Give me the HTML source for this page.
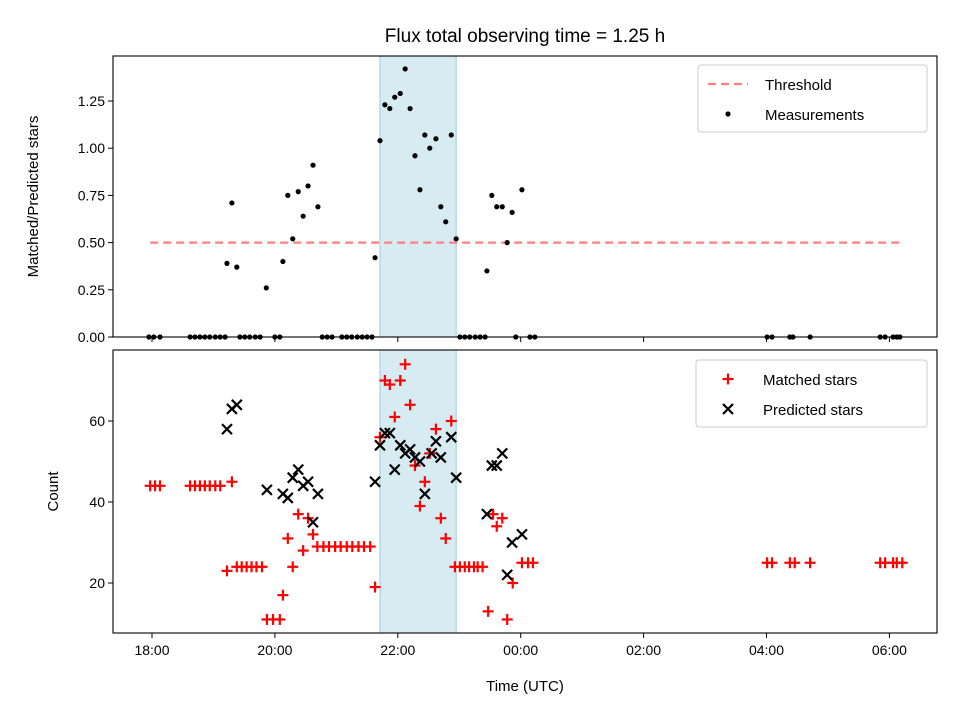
<!DOCTYPE html>
<html><head><meta charset="utf-8">
<style>
html,body{margin:0;padding:0;background:#fff;}
svg{display:block;font-family:"Liberation Sans","DejaVu Sans",sans-serif;}
</style></head>
<body>
<svg id="fig" width="960" height="720" viewBox="0 0 960 720"></svg>
<script>
// ---- data ----
const measTimes = [17.95,18.03,18.13,18.62,18.70,18.78,18.86,18.94,19.03,19.11,19.19,19.22,19.30,19.38,19.43,19.51,19.59,19.68,19.76,19.86,20.0,20.08,20.13,20.21,20.29,20.38,20.46,20.54,20.62,20.70,20.77,20.85,20.93,21.09,21.17,21.25,21.34,21.42,21.50,21.58,21.63,21.71,21.79,21.87,21.95,22.04,22.12,22.20,22.28,22.36,22.44,22.52,22.62,22.70,22.78,22.87,22.95,23.01,23.09,23.17,23.26,23.34,23.42,23.45,23.53,23.61,23.70,23.78,23.86,23.92,24.02,24.15,24.23,28.01,28.09,28.38,28.43,28.71,29.85,29.93,30.06,30.12,30.17];
const measValues = [0,0,0,0,0,0,0,0,0,0,0,0.39,0.71,0.37,0,0,0,0,0,0.26,0,0,0.40,0.75,0.52,0.77,0.64,0.80,0.91,0.69,0,0,0,0,0,0,0,0,0,0,0.42,1.04,1.23,1.21,1.27,1.29,1.42,1.21,0.96,0.78,1.07,1.00,1.05,0.69,0.61,1.07,0.52,0,0,0,0,0,0,0.35,0.75,0.69,0.69,0.50,0.66,0,0.78,0,0,0,0,0,0,0,0,0,0,0,0];
const threshold = 0.5;
const thresholdRange = [17.97, 30.2];
const obsWindow = [21.71, 22.95];
const matchedTimes = [17.97,18.05,18.13,18.62,18.70,18.78,18.86,18.94,19.03,19.11,19.30,19.22,19.38,19.46,19.54,19.62,19.70,19.79,19.87,19.97,20.08,20.13,20.21,20.29,20.38,20.46,20.54,20.62,20.69,20.79,20.88,20.98,21.07,21.17,21.26,21.36,21.45,21.55,21.63,21.71,21.79,21.87,21.95,22.04,22.12,22.20,22.28,22.36,22.44,22.52,22.62,22.70,22.78,22.87,22.93,23.01,23.09,23.16,23.24,23.30,23.38,23.47,23.55,23.61,23.70,23.78,23.87,24.02,24.12,24.20,28.01,28.09,28.38,28.46,28.71,29.85,29.93,30.06,30.12,30.21];
const matchedCounts = [44,44,44,44,44,44,44,44,44,44,45,23,24,24,24,24,24,24,11,11,11,17,31,24,37,28,36,32,29,29,29,29,29,29,29,29,29,29,19,56,70,69,61,70,74,64,49,39,45,52,58,36,31,60,24,24,24,24,24,24,24,13,37,34,36,11,20,25,25,25,25,25,25,25,25,25,25,25,25,25];
const predTimes = [19.22,19.30,19.38,19.87,20.13,20.21,20.29,20.38,20.46,20.54,20.62,20.70,21.63,21.71,21.79,21.87,21.95,22.04,22.12,22.20,22.28,22.36,22.44,22.55,22.62,22.70,22.87,22.95,23.45,23.53,23.61,23.70,23.78,23.86,24.02];
const predCounts = [58,63,64,43,42,41,46,48,44,45,35,42,45,54,57,57,48,54,52,53,51,50,42,52,55,51,56,46,37,49,49,52,22,30,32];
const xTickHours = [18,20,22,24,26,28,30];
const xTickLabels = ["18:00","20:00","22:00","00:00","02:00","04:00","06:00"];
const topTicks = [0,0.25,0.5,0.75,1.0,1.25];
const topTickLabels = ["0.00","0.25","0.50","0.75","1.00","1.25"];
const botTicks = [20,40,60];
const botTickLabels = ["20","40","60"];

// ---- axes ----
const L=113,R=937, T1=56,B1=337, T2=350,B2=633;
const xS = h => 152 + (h-18)*61.45;
const yTop = v => 337 - v*188.8;
const yBot = c => 583 - (c-20)*4.05;
const NS="http://www.w3.org/2000/svg";
const svg=document.getElementById('fig');
function mk(tag,attrs,parent){const e=document.createElementNS(NS,tag);for(const k in attrs)e.setAttribute(k,attrs[k]);(parent||svg).appendChild(e);return e;}
function txt(s,attrs,parent){const e=mk('text',attrs,parent);e.textContent=s;return e;}

// title
let t=txt("Flux total observing time = 1.25 h",{x:525,y:42,'font-size':19,'text-anchor':'middle',fill:'#000'});



// ---------- top panel ----------
const gTop=mk('g',{});


let sh=mk('rect',{x:xS(obsWindow[0]),y:T1,width:xS(obsWindow[1])-xS(obsWindow[0]),height:B1-T1,fill:'#add8e6','fill-opacity':0.5,stroke:'#9ccbd9','stroke-width':1},gTop);


let th=mk('line',{x1:xS(thresholdRange[0]),x2:xS(thresholdRange[1]),y1:yTop(threshold),y2:yTop(threshold),stroke:'#ff7f7f','stroke-width':2.2,'stroke-dasharray':'8,5'},gTop);


measTimes.forEach((h,i)=>{
  const c=mk('circle',{cx:xS(h),cy:yTop(measValues[i]),r:2.6,fill:'#000'},gTop);
  
  
});
let f1=mk('rect',{x:L,y:T1,width:R-L,height:B1-T1,fill:'none',stroke:'#000','stroke-width':1.1},gTop);


topTicks.forEach((v,i)=>{
  mk('line',{x1:L-5,x2:L,y1:yTop(v),y2:yTop(v),stroke:'#000'},gTop);
  const tl=txt(topTickLabels[i],{x:L-8,y:yTop(v)+5,'font-size':14,'text-anchor':'end'},gTop);
  
  
});
xTickHours.forEach(h=>mk('line',{x1:xS(h),x2:xS(h),y1:B1,y2:B1+5,stroke:'#000'},gTop));
let yl1=txt("Matched/Predicted stars",{x:0,y:0,'font-size':15,'text-anchor':'middle',transform:`translate(38,${(T1+B1)/2}) rotate(-90)`},gTop);


// legend top
const lg1=mk('g',{},gTop);


mk('rect',{x:698,y:65,width:229,height:67,rx:3,fill:'#fff','fill-opacity':0.8,stroke:'#ccc'},lg1);
mk('line',{x1:708,x2:748,y1:84,y2:84,stroke:'#ff7f7f','stroke-width':2.2,'stroke-dasharray':'8,5'},lg1);
txt("Threshold",{x:765,y:90,'font-size':15},lg1);
mk('circle',{cx:728,cy:114,r:2.6,fill:'#000'},lg1);
txt("Measurements",{x:765,y:120,'font-size':15},lg1);

// ---------- bottom panel ----------
const gBot=mk('g',{});


let sh2=mk('rect',{x:xS(obsWindow[0]),y:T2,width:xS(obsWindow[1])-xS(obsWindow[0]),height:B2-T2,fill:'#add8e6','fill-opacity':0.5,stroke:'#9ccbd9','stroke-width':1},gBot);


function plus(x,y,p){const g=mk('g',{stroke:'#ff0000','stroke-width':2.2},p);mk('line',{x1:x-5.5,x2:x+5.5,y1:y,y2:y},g);mk('line',{x1:x,x2:x,y1:y-5.5,y2:y+5.5},g);return g;}
function cross(x,y,p){const g=mk('g',{stroke:'#000','stroke-width':2.2},p);mk('line',{x1:x-5,x2:x+5,y1:y-5,y2:y+5},g);mk('line',{x1:x-5,x2:x+5,y1:y+5,y2:y-5},g);return g;}
matchedTimes.forEach((h,i)=>{
  const g=plus(xS(h),yBot(matchedCounts[i]),gBot);
  
  
});
predTimes.forEach((h,i)=>{
  const g=cross(xS(h),yBot(predCounts[i]),gBot);
  
  
});
let f2=mk('rect',{x:L,y:T2,width:R-L,height:B2-T2,fill:'none',stroke:'#000','stroke-width':1.1},gBot);


botTicks.forEach((v,i)=>{
  mk('line',{x1:L-5,x2:L,y1:yBot(v),y2:yBot(v),stroke:'#000'},gBot);
  const tl=txt(botTickLabels[i],{x:L-8,y:yBot(v)+5,'font-size':14,'text-anchor':'end'},gBot);
  
  
});
xTickHours.forEach((h,i)=>{
  mk('line',{x1:xS(h),x2:xS(h),y1:B2,y2:B2+5,stroke:'#000'},gBot);
  const tl=txt(xTickLabels[i],{x:xS(h),y:B2+22,'font-size':14,'text-anchor':'middle'},gBot);
  
  
});
let yl2=txt("Count",{x:0,y:0,'font-size':15,'text-anchor':'middle',transform:`translate(58,${(T2+B2)/2}) rotate(-90)`},gBot);


let xl=txt("Time (UTC)",{x:525,y:691,'font-size':15,'text-anchor':'middle'},gBot);


const lg2=mk('g',{},gBot);


mk('rect',{x:696,y:360,width:231,height:67,rx:3,fill:'#fff','fill-opacity':0.8,stroke:'#ccc'},lg2);
plus(728,379,lg2);
txt("Matched stars",{x:763,y:385,'font-size':15},lg2);
cross(728,409,lg2);
txt("Predicted stars",{x:763,y:415,'font-size':15},lg2);
</script>
</body></html>
